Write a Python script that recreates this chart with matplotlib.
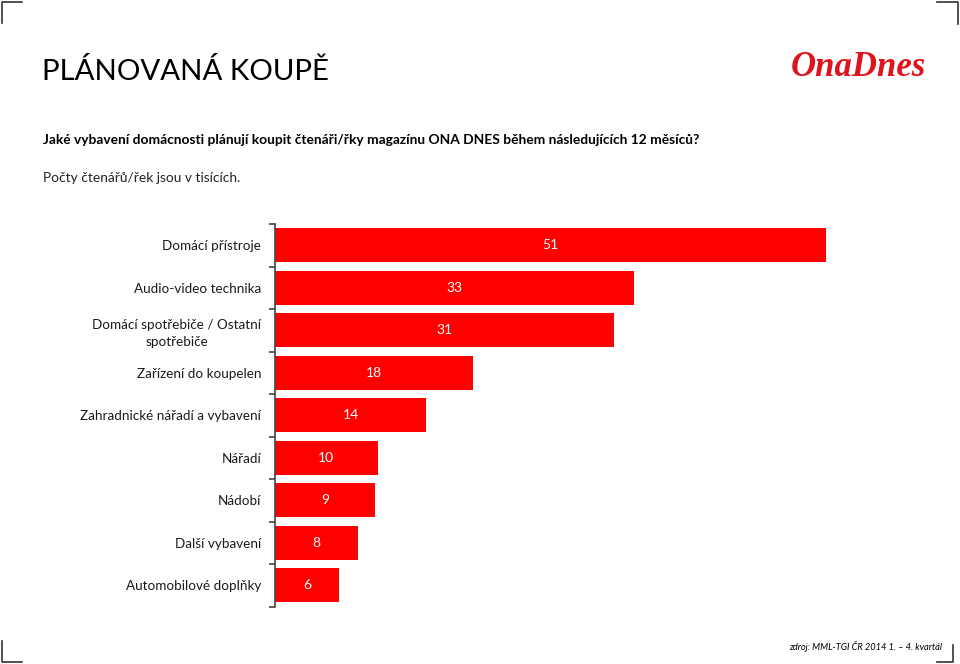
import matplotlib
matplotlib.use("Agg")
import matplotlib.pyplot as plt
from matplotlib.lines import Line2D
import numpy as np

categories = [
    "Domácí přístroje",
    "Audio-video technika",
    "Domácí spotřebiče / Ostatní\nspotřebiče",
    "Zařízení do koupelen",
    "Zahradnické nářadí a vybavení",
    "Nářadí",
    "Nádobí",
    "Další vybavení",
    "Automobilové doplňky",
]
values = [51.0, 33.2, 31.4, 18.3, 14.0, 9.5, 9.3, 7.7, 5.9]
value_labels = ["51", "33", "31", "18", "14", "10", "9", "8", "6"]

title = "PLÁNOVANÁ KOUPĚ"
question = "Jaké vybavení domácnosti plánují koupit čtenáři/řky magazínu ONA DNES během následujících 12 měsíců?"
subtitle = "Počty čtenářů/řek jsou v tisících."
source = "zdroj: MML-TGI ČR 2014 1. – 4. kvartál"
logo = "OnaDnes"

W, H = 960, 664
fig = plt.figure(figsize=(W / 100, H / 100), dpi=100)
FONT = ["Lato", "DejaVu Sans"]

def fx(px):
    return px / W

def fy(py):
    return 1 - py / H

# axes placement
left_px, right_px, top_px, bot_px = 275, 826, 224, 606.5
ax = fig.add_axes([fx(left_px), fy(bot_px), fx(right_px) - fx(left_px), fy(top_px) - fy(bot_px)])

n = len(categories)
y = np.arange(n)
ax.barh(y, values, height=0.79, color="#FF0000", zorder=2)
ax.set_xlim(0, 51.0)
ax.set_ylim(n - 0.5, -0.5)

for yi, v, lab in zip(y, values, value_labels):
    ax.text(v / 2, yi, lab, ha="center", va="center", color="white",
            fontsize=10, family=FONT)

ax.set_yticks(y)
ax.set_yticklabels(categories, family=FONT, fontsize=9.7, color="#1a1a1a",
                   multialignment="center", linespacing=1.45)
ax.tick_params(axis="y", which="major", length=0, pad=10)
ax.set_yticks(np.arange(-0.5, n, 1.0), minor=True)
ax.tick_params(axis="y", which="minor", length=4, width=1.2, color="#444444", direction="out")
ax.set_xticks([])
for s in ["top", "right", "bottom"]:
    ax.spines[s].set_visible(False)
ax.spines["left"].set_color("#444444")
ax.spines["left"].set_linewidth(1.2)

# texts
fig.text(fx(42), fy(72), title, family=FONT, fontsize=21.2, color="black", va="center", ha="left")
fig.text(fx(43), fy(140), question, family=FONT, fontsize=9.9, fontweight="bold",
         color="black", va="center", ha="left")
fig.text(fx(43), fy(178), subtitle, family=FONT, fontsize=9.95, color="#222222",
         va="center", ha="left")
fig.text(fx(942), fy(646), source, family=FONT, fontsize=6.7, style="italic",
         color="black", va="center", ha="right")
fig.text(fx(858), fy(67), logo, family=["Liberation Serif", "DejaVu Serif"], fontsize=25,
         fontweight="bold", style="italic", color="#E0121B", va="center", ha="center")

# corner marks
def corner(xs, ys):
    fig.add_artist(Line2D([fx(v) for v in xs], [fy(v) for v in ys],
                          color="#333333", linewidth=1.2, transform=fig.transFigure))

corner([22, 2, 2], [2, 2, 23])
corner([937, 958, 958], [2, 2, 24])
corner([2, 2, 22], [641, 662, 662])
corner([937, 953, 953], [662, 662, 645])

fig.savefig("out.png", dpi=100)
